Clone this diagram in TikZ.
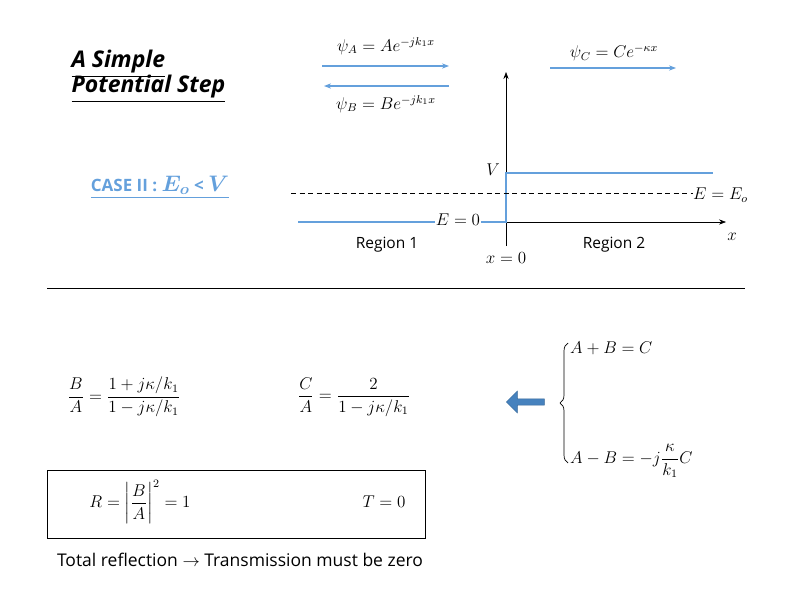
\documentclass[tikz,border=0pt]{standalone}
\usepackage{amsmath}
\usepackage{fontspec}
\setsansfont{Open Sans}
\usetikzlibrary{arrows.meta,shapes.arrows,decorations.pathreplacing}
\definecolor{lb}{RGB}{100,160,220}
\definecolor{ab}{RGB}{70,130,190}
\newcommand\mymath[1]{\scalebox{1.42}{$#1$}}
\begin{document}
\begin{tikzpicture}[x=1pt,y=-1pt,
  mth/.style={font=\fontsize{12}{14}\selectfont, inner sep=1pt},
  lbl/.style={font=\sffamily\fontsize{15.5}{17}\selectfont},
  blu/.style={draw=lb,line width=1.6pt},
  barr/.style={draw=lb,line width=1.3pt,-{Stealth[length=7pt]}},
  ax/.style={draw=black,line width=0.6pt,-{Stealth[length=7pt]}}]
\useasboundingbox (0,0) rectangle (800,589);
\node[font=\sffamily\bfseries\itshape\fontsize{23}{25}\selectfont,align=left,anchor=north west] (title) at (68,46)
  {\underline{A Simple}\\[-3pt]\underline{Potential Step}};
\node[font=\sffamily\bfseries\fontsize{17}{19}\selectfont,text=lb] (case) at (160,187) {\underline{CASE II : \scalebox{1.3}{$\boldsymbol{E_o}$} < \scalebox{1.3}{$\boldsymbol{V}$}}};
% wave labels
\node[mth] (pa) at (386,46) {\mymath{\psi_A = Ae^{-jk_1x}}};
\node[mth] (pb) at (386,104) {\mymath{\psi_B = Be^{-jk_1x}}};
\node[mth] (pc) at (614,53) {\mymath{\psi_C = Ce^{-\kappa x}}};
\coordinate (a1) at (322,66); \coordinate (a2) at (449,66);
\coordinate (b1) at (449,86); \coordinate (b2) at (324,86);
\coordinate (c1) at (550,68); \coordinate (c2) at (676,68);
\draw[barr] (a1) -- (a2);
\draw[barr] (b1) -- (b2);
\draw[barr] (c1) -- (c2);
% axes
\coordinate (o) at (506,222);
\coordinate (ybot) at (506,246); \coordinate (ytop) at (506,72);
\coordinate (xend) at (726,222);
\draw[ax] (ybot) -- (ytop);
\draw[ax] (o) -- (xend);
\node[mth] (xl) at (732,237) {\mymath{x}};
% potential
\coordinate (l0) at (298,222); \coordinate (vt) at (506,173); \coordinate (vr) at (713,173);
\draw[blu] (l0) -- (o) -- (vt) -- (vr);
\node[mth,fill=white,inner sep=0.5pt] (e0) at (458,220) {\mymath{E=0}};
\node[mth] (vl) at (493,170) {\mymath{V}};
\coordinate (d1) at (291,193); \coordinate (d2) at (693,193);
\draw[dashed,line width=0.9pt,dash pattern=on 5pt off 3.5pt] (d1) -- (d2);
\node[mth,anchor=west] (eo) at (692,195) {\mymath{E=E_o}};
\node[lbl] (r1) at (387,245) {Region 1};
\node[lbl] (r2) at (614,245) {Region 2};
\node[mth] (x0) at (506,258) {\mymath{x=0}};
% rule
\coordinate (h1) at (47,288); \coordinate (h2) at (745,288);
\draw[line width=0.8pt] (h1) -- (h2);
% equations
\node[mth] (ba) at (124,397) {\mymath{\dfrac{B}{A}=\dfrac{1+j\kappa/k_1}{1-j\kappa/k_1}}};
\node[mth] (ca) at (354,397) {\mymath{\dfrac{C}{A}=\dfrac{2}{1-j\kappa/k_1}}};
\node[single arrow,shape border rotate=180,fill=ab,draw=ab!80!black,minimum height=38pt,minimum width=22pt,single arrow head extend=3pt,inner sep=1pt] (bar) at (527,402) {};
\coordinate (br1) at (568,343); \coordinate (br2) at (568,463);
\draw[decorate,decoration={brace,amplitude=8pt,mirror},line width=0.7pt] (br1) -- (br2);
\node[mth,anchor=west] (eq1) at (569,348) {\mymath{A+B=C}};
\node[mth,anchor=west] (eq2) at (569,461) {\mymath{A-B=-j\dfrac{\kappa}{k_1}C}};
% box
\node[draw,line width=1pt,minimum width=378pt,minimum height=68pt] (box) at (236,504) {};
\node[mth] (rr) at (140,502) {\mymath{R=\left|\dfrac{B}{A}\right|^2=1}};
\node[mth] (tt) at (384,502) {\mymath{T=0}};
\node[font=\sffamily\fontsize{17.5}{19}\selectfont] (tot) at (240,560) {Total reflection $\rightarrow$ Transmission must be zero};
\end{tikzpicture}
\end{document}
